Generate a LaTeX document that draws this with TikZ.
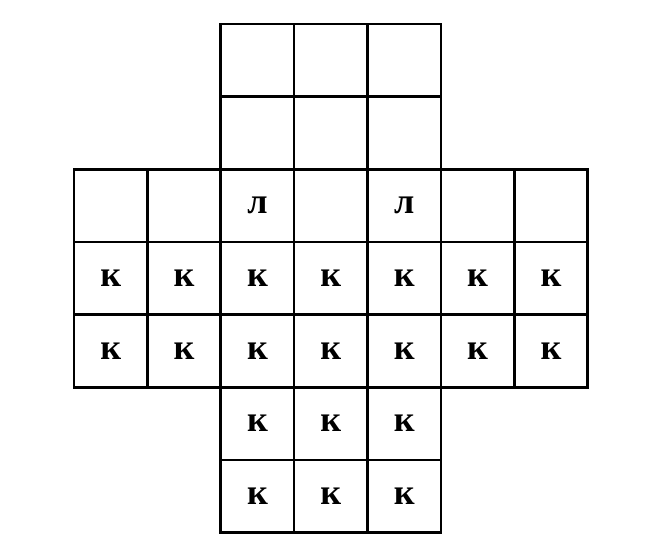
\documentclass[tikz,border=0pt]{standalone}
\usepackage{fontspec}
\setmainfont{Liberation Serif}
\usepackage{tikz}

\begin{document}
\begin{tikzpicture}[
  y=0.99cm,
  cell/.style={
    rectangle, draw=black, line width=1pt,
    minimum width=1cm, minimum height=0.99cm, inner sep=0pt, outer sep=0pt,
    font=\fontsize{14}{16}\selectfont\bfseries
  }
]

% === margins of the page ===
\useasboundingbox (-1.008,-0.265) rectangle (8.04,7.33);

% === top arm (empty) ===
\foreach \r in {0,1}
  \foreach \c in {2,3,4}
    \node[cell] (cell-\r-\c) at (\c+0.5, 6.5-\r) {};

% === middle band ===
\foreach \c/\t in {0/,1/,2/л,3/,4/л,5/,6/}
  \node[cell] (cell-2-\c) at (\c+0.5, 4.5) {\t};
\foreach \r in {3,4}
  \foreach \c in {0,...,6}
    \node[cell] (cell-\r-\c) at (\c+0.5, 6.5-\r) {к};

% === bottom arm ===
\foreach \r in {5,6}
  \foreach \c in {2,3,4}
    \node[cell] (cell-\r-\c) at (\c+0.5, 6.5-\r) {к};

\end{tikzpicture}
\end{document}
